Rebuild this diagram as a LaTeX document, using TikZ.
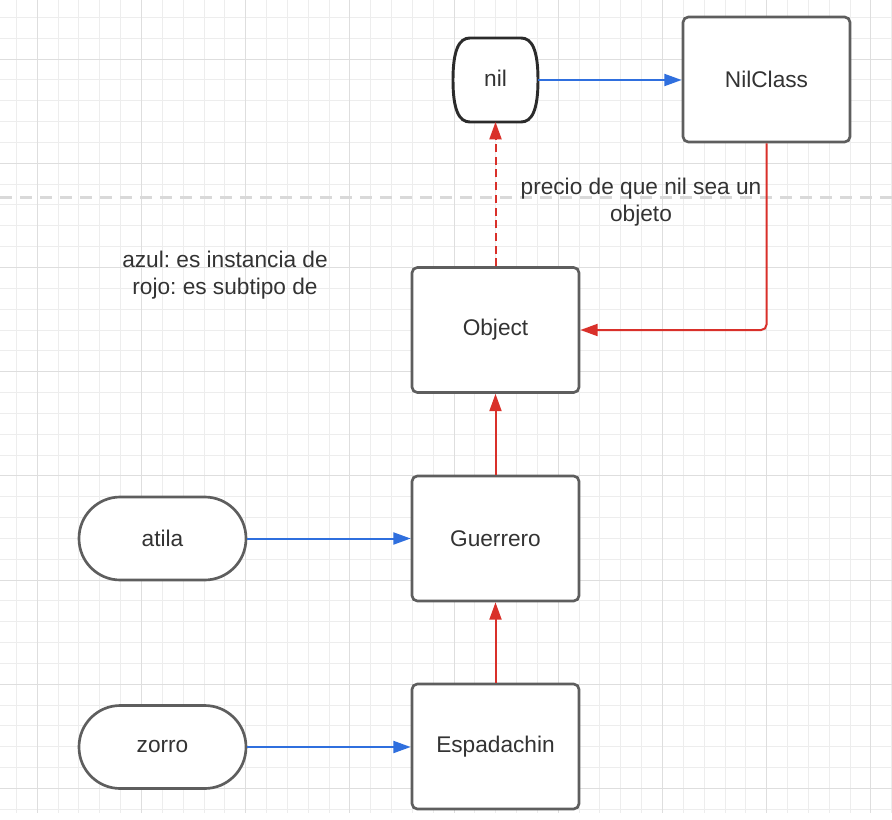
\documentclass[tikz,border=0pt]{standalone}
\usepackage{fontspec}
\setmainfont{Liberation Sans}
\frenchspacing
\usetikzlibrary{arrows.meta,calc}
\definecolor{gridminor}{HTML}{EDEDED}
\definecolor{gridmajor}{HTML}{DEDEDE}
\definecolor{sepgray}{HTML}{D9D9D9}
\definecolor{boxgray}{HTML}{5E5E5E}
\definecolor{nilgray}{HTML}{2B2B2B}
\definecolor{txt}{HTML}{333333}
\definecolor{linkblue}{HTML}{2F6FDE}
\definecolor{linkred}{HTML}{D9302A}
\tikzset{
  lbl/.style={text=txt,font=\fontsize{17}{20.5}\selectfont},
  boxnode/.style={lbl,draw=boxgray,line width=2pt,rounded corners=4pt,fill=white,
    minimum width=125.25pt,minimum height=93.75pt,inner sep=0pt},
  termnode/.style={lbl,draw=boxgray,line width=2pt,rounded corners=31pt,fill=white,
    minimum width=125.25pt,minimum height=62.25pt,inner sep=0pt},
  nilnode/.style={lbl,minimum width=63.75pt,minimum height=63pt,inner sep=0pt,outer sep=0pt},
  tip/.style={-{Triangle[length=13pt,width=9pt]}},
  bluelink/.style={tip,draw=linkblue,line width=1.5pt},
  redlink/.style={tip,draw=linkred,line width=1.5pt},
  reddash/.style={redlink,dash pattern=on 6pt off 3.5pt},
}
\begin{document}
\begin{tikzpicture}[x=0.75pt,y=-0.75pt]
\useasboundingbox (0,0) rectangle (892,820);
\fill[white] (0,0) rectangle (892,820);
% grid
\foreach \i in {-1,...,41} {
  \draw[gridminor,line width=0.75pt] ({37.3+\i*20.84},0) -- ({37.3+\i*20.84},813);
}
\foreach \j in {-2,...,36} {
  \draw[gridminor,line width=0.75pt] (0,{59.1+\j*20.84}) -- (892,{59.1+\j*20.84});
}
\foreach \i in {0,...,8} {
  \draw[gridmajor,line width=0.75pt] ({37.3+\i*104.2},0) -- ({37.3+\i*104.2},813);
}
\foreach \j in {0,...,7} {
  \draw[gridmajor,line width=0.75pt] (0,{59.1+\j*104.2}) -- (892,{59.1+\j*104.2});
}
% separator
\draw[sepgray,line width=2.25pt,dash pattern=on 9pt off 6pt] (0,197.5) -- (892,197.5);

% nodes
\node[nilnode] (nil) at (495.5,80) {nil};
\fill[white,draw=nilgray,line width=2.2pt]
  ($(nil.north west)+(17,0)$) -- ($(nil.north east)+(-17,0)$)
  .. controls ($(nil.north east)+(-6,0)$) and ($(nil.east)+(0,-30)$) .. (nil.east)
  .. controls ($(nil.east)+(0,30)$) and ($(nil.south east)+(-6,0)$) .. ($(nil.south east)+(-17,0)$)
  -- ($(nil.south west)+(17,0)$)
  .. controls ($(nil.south west)+(6,0)$) and ($(nil.west)+(0,30)$) .. (nil.west)
  .. controls ($(nil.west)+(0,-30)$) and ($(nil.north west)+(6,0)$) .. cycle;
\node[nilnode] at ($(nil.center)+(0,-1.5)$) {nil};

\node[boxnode] (nilclass) at (766.5,79.5) {NilClass};
\node[boxnode] (object) at (495.5,330) {Object};
\node[boxnode] (guerrero) at (495.5,538.5) {Guerrero};
\node[boxnode] (espadachin) at (495.5,746.5) {Espadachin};
\node[termnode] (atila) at (162.5,538.5) {atila};
\node[termnode] (zorro) at (162.5,747) {zorro};

\node[lbl,align=center] (nota) at (641,202) {precio de que nil sea un\\objeto};
\node[lbl,align=center] (leyenda) at (225,275) {azul: es instancia de\\rojo: es subtipo de};

% connectors
\draw[bluelink] (nil.east) -- (nil.east -| nilclass.west);
\draw[redlink,rounded corners=4pt] (nilclass.south) |- (object.east);
\draw[reddash] (object.north) -- (nil.south);
\draw[redlink] (guerrero.north) -- (object.south);
\draw[redlink] (espadachin.north) -- (guerrero.south);
\draw[bluelink] (atila.east) -- (guerrero.west);
\draw[bluelink] (zorro.east) -- (zorro.east -| espadachin.west);
\end{tikzpicture}
\end{document}
